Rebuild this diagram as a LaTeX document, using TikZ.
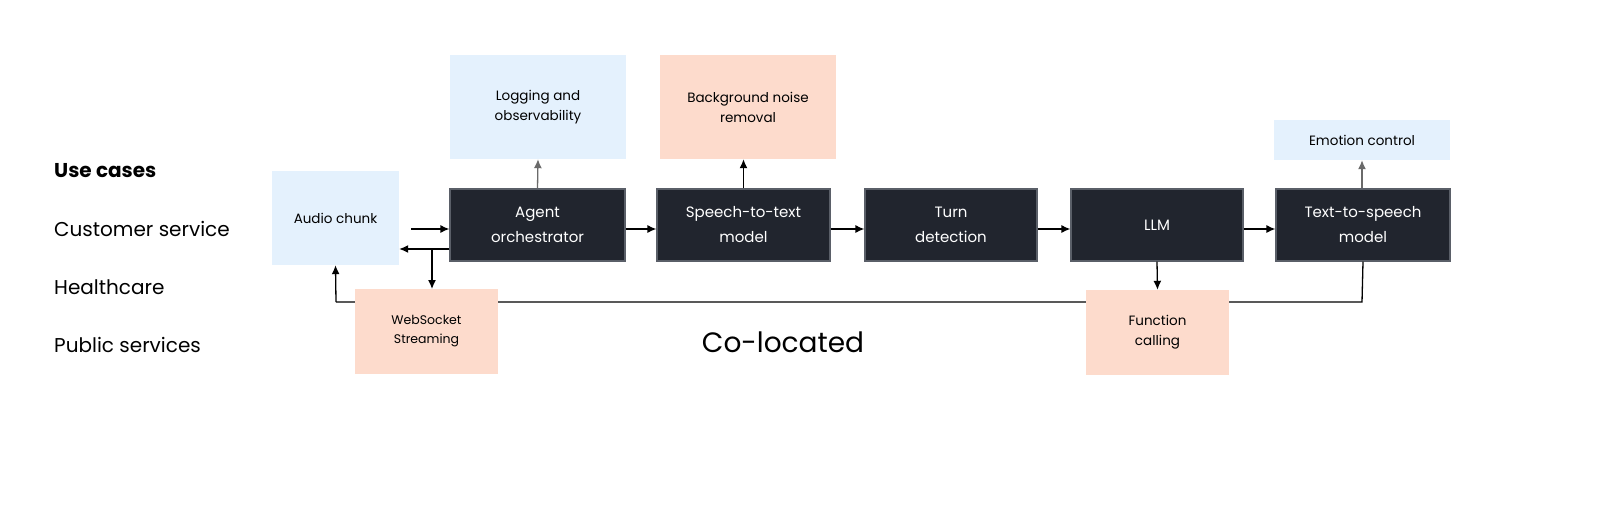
\documentclass[tikz,border=0pt]{standalone}
\usepackage{fontspec}
\setmainfont{Poppins}
\usetikzlibrary{arrows.meta}
\definecolor{lblue}{HTML}{E4F1FD}
\definecolor{peach}{HTML}{FDDBCC}
\definecolor{dark}{HTML}{21252E}
\definecolor{dborder}{HTML}{5A5F68}
\definecolor{garrow}{HTML}{6A6A6A}
\begin{document}
\begin{tikzpicture}[x=1pt,y=-1pt,
  darkbox/.style={fill=dark,draw=dborder,line width=1.2pt,text=white,align=center,font=\fontsize{15}{25}\selectfont,inner sep=0pt},
  bluebox/.style={fill=lblue,draw=none,align=center,font=\fontsize{13.5}{20}\selectfont,inner sep=0pt},
  peachbox/.style={fill=peach,draw=none,align=center,font=\fontsize{13.5}{20}\selectfont,inner sep=0pt},
  conn/.style={line width=1.3pt,-{Latex[length=9pt,width=8pt]}},
  gconn/.style={line width=1.3pt,draw=garrow,-{Latex[length=9pt,width=8pt]}},
  side/.style={anchor=west,font=\fontsize{20}{24}\selectfont,inner sep=0pt}
]
\useasboundingbox (0,0) rectangle (1600,527);
\fill[white] (0,0) rectangle (1600,527);

\coordinate (c1) at (1362,302);
\coordinate (c2) at (336,302);

% boxes
\node[bluebox,minimum width=127pt,minimum height=94pt] (audio) at (335.5,218) {Audio chunk};
\node[darkbox,minimum width=175pt,minimum height=72pt] (agent) at (537.5,225) {Agent\\orchestrator};
\node[darkbox,minimum width=173pt,minimum height=72pt] (stt) at (743.5,225) {Speech-to-text\\model};
\node[darkbox,minimum width=172pt,minimum height=72pt] (turn) at (951,225) {Turn\\detection};
\node[darkbox,minimum width=172pt,minimum height=72pt] (llm) at (1157,225) {LLM};
\node[darkbox,minimum width=174pt,minimum height=72pt] (tts) at (1363,225) {Text-to-speech\\model};

\node[bluebox,minimum width=176pt,minimum height=104pt] (log) at (538,107) {Logging and\\observability};
\node[peachbox,minimum width=176pt,minimum height=104pt] (noise) at (748,107) {Background noise\\removal};
\node[bluebox,minimum width=176pt,minimum height=40pt] (emo) at (1362,140) {Emotion control};

\draw[line width=1.3pt] (tts.south) -- (c1) -- (c2);
\draw[conn] (c2) -- (audio.south);

\node[peachbox,minimum width=143pt,minimum height=85pt,font=\fontsize{12.5}{19}\selectfont] (ws) at (426.5,331.5) {WebSocket\\Streaming};
\node[peachbox,minimum width=143pt,minimum height=85pt] (fc) at (1157.5,332.5) {Function\\calling};

% main arrows
\draw[conn] (411,229) -- (agent.west |- 0,229);
\draw[conn] (agent.west |- 0,249) -- (audio.east |- 0,249);
\draw[conn] (432,249) -- (432,289);
\draw[conn] (agent.east |- 0,229) -- (stt.west |- 0,229);
\draw[conn] (stt.east |- 0,229) -- (turn.west |- 0,229);
\draw[conn] (turn.east |- 0,229) -- (llm.west |- 0,229);
\draw[conn] (llm.east |- 0,229) -- (tts.west |- 0,229);
\draw[conn] (llm.south) -- (fc.north);
\draw[gconn] (agent.north) -- (log.south);
\draw[conn] (stt.north) -- (noise.south -| stt.north);
\draw[gconn] (tts.north -| emo.south) -- (emo.south);

% labels
\node[side,font=\fontsize{20}{24}\selectfont\bfseries] (uc) at (54,171) {Use cases};
\node[side] (cs) at (54,229) {Customer service};
\node[side] (hc) at (54,287) {Healthcare};
\node[side] (ps) at (54,345) {Public services};
\node[font=\fontsize{28}{34}\selectfont,inner sep=0pt] (co) at (783,342) {Co-located};
\end{tikzpicture}
\end{document}
